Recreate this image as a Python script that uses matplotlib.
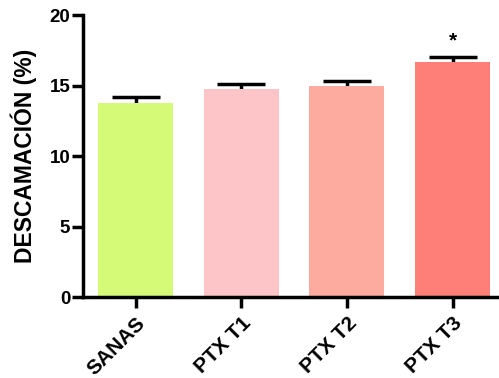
import matplotlib
matplotlib.use("Agg")
import matplotlib.pyplot as plt

categories = ["SANAS", "PTX T1", "PTX T2", "PTX T3"]
means = [13.8, 14.75, 14.95, 16.7]
errors = [0.4, 0.35, 0.35, 0.3]
colors = ["#d4fa78", "#fdc5c8", "#fdab9e", "#fe7f77"]
significance = ["", "", "", "*"]

plt.rcParams['font.family'] = ['Liberation Sans', 'DejaVu Sans']
fig = plt.figure(figsize=(4.99, 3.78), dpi=100)
ax = fig.add_axes([0.166, 0.214, 0.834, 0.746])

x = list(range(len(categories)))
ax.errorbar(x, means, yerr=errors, fmt='none', ecolor='black',
            elinewidth=2.5, capsize=17, capthick=2.5, zorder=1)
ax.bar(x, means, width=0.71, color=colors, zorder=2)
for xi, m, e, s in zip(x, means, errors, significance):
    if s:
        ax.text(xi, m + e + 0.5, s, ha='center', va='bottom', fontsize=15, fontweight='bold')

ax.set_xlim(-0.5, 3.44)
ax.set_ylim(0, 20)
ax.set_yticks([0, 5, 10, 15, 20])
ax.set_xticks(x)
ax.set_xticklabels(categories, rotation=45, ha='right', rotation_mode='anchor',
                   fontsize=15, fontweight='bold')
for lab in ax.get_yticklabels():
    lab.set_fontweight('bold')
    lab.set_fontsize(13.5)
ax.set_ylabel("DESCAMACIÓN (%)", fontsize=16.5, fontweight='bold', labelpad=9)

for sp in ['top', 'right']:
    ax.spines[sp].set_visible(False)
for sp in ['left', 'bottom']:
    ax.spines[sp].set_linewidth(2.5)
ax.tick_params(axis='both', width=2.5, length=8, pad=1)
ax.tick_params(axis='x', pad=4)

fig.savefig("out.png", dpi=100)
